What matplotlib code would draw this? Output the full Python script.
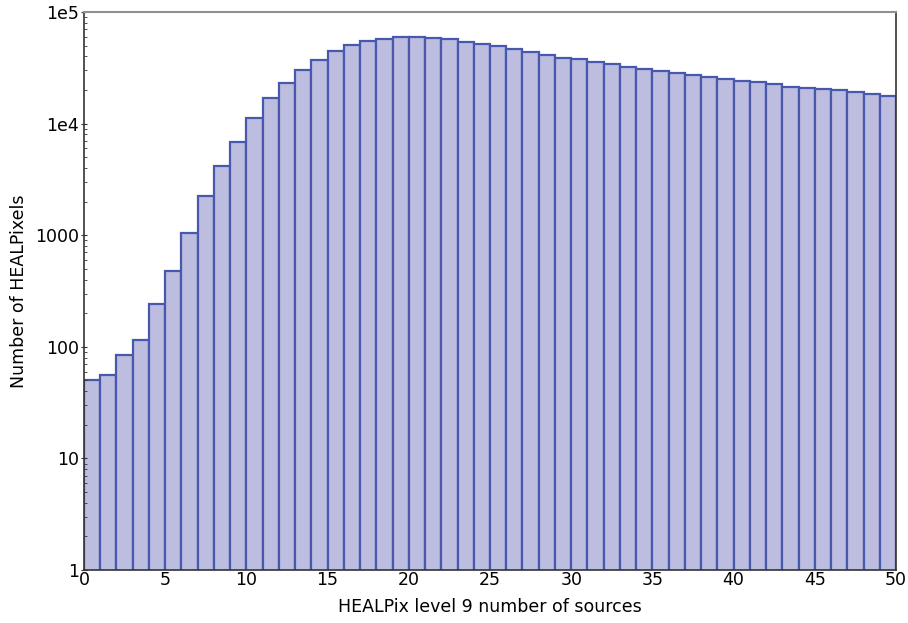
import numpy as np
import matplotlib
matplotlib.use("Agg")
import matplotlib.pyplot as plt
from matplotlib.ticker import FixedLocator, FixedFormatter, LogLocator, NullFormatter

# Number of sources per HEALPix level-9 pixel (bins 0..49) and pixel counts
n_sources = np.arange(50)
n_pixels = [
    50, 56, 84, 115, 242, 480, 1040, 2230, 4170, 6900,
    11200, 16900, 23300, 30400, 37300, 44900, 51000, 55200, 57400, 59900,
    59900, 59000, 56800, 54000, 51600, 49300, 46600, 43800, 41300, 38900,
    37600, 35300, 34100, 32100, 30700, 29600, 28500, 27300, 26200, 25000,
    24100, 23600, 22600, 21400, 20700, 20400, 19800, 19100, 18300, 17800,
]

y_ticks = [1, 10, 100, 1000, 1e4, 1e5]
y_tick_labels = ["1", "10", "100", "1000", "1e4", "1e5"]

plt.rcParams['font.family'] = ['DejaVu Sans']

fig = plt.figure(figsize=(9.08, 6.23), dpi=100)
ax = fig.add_axes([84 / 908, 53 / 623, 812 / 908, 558 / 623])

ax.bar(n_sources, n_pixels, width=1.0, align='edge',
       color='#bdbde0', edgecolor='#4858ad', linewidth=1.6)

ax.set_yscale('log')
ax.set_xlim(0, 50)
ax.set_ylim(1, 1e5)

ax.yaxis.set_major_locator(FixedLocator(y_ticks))
ax.yaxis.set_major_formatter(FixedFormatter(y_tick_labels))
ax.yaxis.set_minor_locator(LogLocator(base=10, subs=np.arange(2, 10)))
ax.yaxis.set_minor_formatter(NullFormatter())
ax.set_xticks(np.arange(0, 51, 5))

ax.tick_params(axis='both', which='major', labelsize=12.5, length=3,
               width=0.8, color='#333333', pad=1)
ax.tick_params(axis='y', which='major', direction='inout', length=5)
ax.tick_params(axis='y', which='minor', direction='in', length=2.5,
               width=0.6, color='#333333')
ax.tick_params(axis='x', which='major', direction='in', length=0)

for side in ['left', 'bottom', 'right']:
    ax.spines[side].set_color('#333333')
    ax.spines[side].set_linewidth(1.2)
ax.spines['top'].set_color('#909090')
ax.spines['top'].set_linewidth(1.5)

ax.set_xlabel('HEALPix level 9 number of sources', fontsize=12.5, labelpad=6)
ax.set_ylabel('Number of HEALPixels', fontsize=12.5, labelpad=5)

fig.savefig('out.png', dpi=100)
